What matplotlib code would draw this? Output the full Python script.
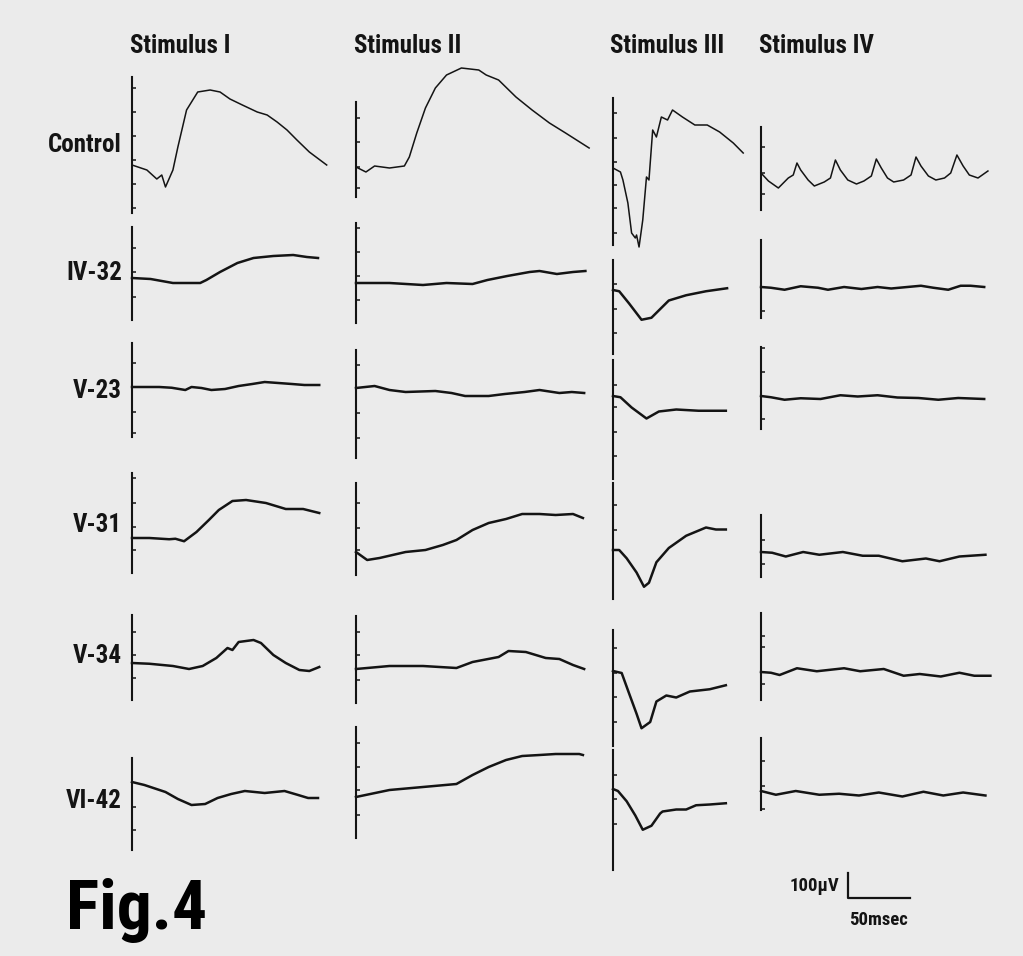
import matplotlib
matplotlib.use('Agg')
import matplotlib.pyplot as plt

# figure size in pixels and the recording scale (scale bar: 50 ms, 100 uV)
W, H = 1023, 956
MS_PER_PX = 50 / 62
UV_PER_PX = 100 / 25

stimuli = ['Stimulus I', 'Stimulus II', 'Stimulus III', 'Stimulus IV']
rows = ['Control', 'IV-32', 'V-23', 'V-31', 'V-34', 'VI-42']

# traces: time after stimulus (ms) and potential from baseline (uV)
# --- Control
ctl_1_t = [0, 12, 20, 24, 27, 33, 37, 44, 53, 63, 71, 79, 89, 101, 109, 117, 125, 133, 143, 157]
ctl_1_v = [0, -20, -56, -40, -88, -20, 72, 220, 292, 300, 292, 264, 240, 212, 200, 172, 140, 100, 52, 0]
ctl_2_t = [0, 8, 15, 27, 39, 43, 49, 56, 64, 73, 85, 99, 105, 115, 129, 142, 156, 169, 188]
ctl_2_v = [0, -20, 4, -4, 4, 40, 136, 236, 316, 368, 396, 388, 368, 348, 280, 228, 176, 136, 76]
ctl_3_t = [0, 6, 8, 12, 15, 18, 19, 21, 24, 27, 29, 32, 35, 39, 44, 48, 56, 66, 76, 86, 97, 105]
ctl_3_v = [0, -16, -48, -140, -260, -280, -268, -316, -208, -36, -48, 152, 124, 204, 192, 232, 204,
           172, 172, 144, 100, 60]
ctl_4_t = [0, 6, 14, 22, 26, 29, 32, 38, 43, 51, 56, 60, 64, 70, 77, 83, 89, 93, 97, 102, 107, 115,
           121, 125, 129, 135, 141, 148, 153, 158, 163, 168, 175, 183]
ctl_4_v = [0, -32, -60, -20, -8, 40, 12, -28, -52, -36, -20, 52, 12, -28, -44, -32, -12, 56, 20, -20,
           -36, -28, -8, 64, 28, -12, -28, -20, 0, 72, 28, -8, -20, 8]
# --- IV-32
iv32_1_t = [0, 15, 33, 55, 60, 71, 85, 98, 114, 130, 141, 150]
iv32_1_v = [0, -4, -20, -20, -8, 24, 60, 80, 88, 92, 84, 80]
iv32_2_t = [0, 27, 54, 73, 94, 106, 122, 140, 148, 162, 175, 185]
iv32_2_v = [0, 0, -8, 0, -4, 12, 28, 44, 48, 36, 44, 48]
iv32_3_t = [0, 5, 13, 23, 31, 45, 59, 75, 92]
iv32_3_v = [0, -5, -54, -119, -111, -42, -21, -5, 7]
iv32_4_t = [0, 8, 19, 32, 46, 54, 67, 81, 94, 105, 118, 129, 139, 151, 161, 169, 180]
iv32_4_v = [0, -3, -11, 3, -3, -11, 0, -8, 0, -6, 0, 5, -3, -11, 5, 5, 0]
# --- V-23
v23_1_t = [0, 22, 32, 43, 48, 56, 64, 75, 86, 97, 107, 118, 129, 139, 151]
v23_1_v = [0, 0, -3, -12, 0, -4, -12, -8, 4, 12, 20, 16, 12, 8, 8]
v23_2_t = [0, 15, 27, 40, 64, 77, 88, 107, 120, 136, 148, 164, 174, 184]
v23_2_v = [0, 8, -8, -16, -12, -20, -32, -32, -24, -16, -8, -20, -16, -20]
v23_3_t = [0, 6, 15, 27, 37, 51, 69, 91]
v23_3_v = [0, -5, -46, -90, -62, -54, -59, -59]
v23_4_t = [0, 8, 19, 32, 48, 64, 78, 94, 110, 127, 143, 159, 180]
v23_4_v = [0, -5, -15, -9, -12, 3, -2, 3, -6, -8, -15, -8, -12]
# --- V-31
v31_1_t = [0, 14, 30, 35, 42, 52, 62, 70, 81, 92, 108, 124, 138, 151]
v31_1_v = [0, 0, -5, -3, -13, 24, 72, 112, 148, 152, 140, 116, 116, 100]
v31_2_t = [0, 9, 19, 40, 56, 70, 81, 94, 107, 121, 134, 148, 161, 175, 183]
v31_2_v = [0, -32, -24, 0, 8, 28, 48, 88, 116, 132, 152, 152, 148, 152, 136]
v31_3_t = [0, 5, 11, 19, 25, 29, 35, 45, 59, 75, 83, 91]
v31_3_v = [0, 0, -33, -90, -147, -131, -49, 8, 57, 90, 82, 82]
v31_4_t = [0, 9, 20, 34, 47, 66, 82, 95, 114, 133, 144, 160, 181]
v31_4_v = [0, -3, -18, 0, -11, 0, -15, -15, -37, -26, -37, -18, -11]
# --- V-34
v34_1_t = [0, 14, 33, 46, 57, 68, 77, 81, 86, 98, 104, 114, 124, 135, 143, 151]
v34_1_v = [0, -3, -12, -24, -12, 20, 60, 52, 84, 92, 80, 32, 0, -28, -32, -16]
v34_2_t = [0, 27, 54, 81, 94, 115, 123, 137, 153, 164, 175, 184]
v34_2_v = [0, 12, 12, 4, 28, 48, 72, 68, 44, 40, 16, 0]
v34_3_t = [0, 7, 13, 19, 23, 30, 35, 43, 51, 62, 78, 91]
v34_3_v = [0, -8, -90, -171, -229, -204, -122, -98, -106, -82, -73, -57]
v34_4_t = [0, 8, 15, 29, 45, 67, 80, 99, 115, 128, 145, 160, 172, 185]
v34_4_v = [0, -3, -12, 15, 3, 15, 3, 12, -15, -8, -18, -3, -15, -15]
# --- VI-42
vi42_1_t = [0, 10, 27, 37, 48, 59, 69, 80, 91, 107, 123, 134, 142, 150]
vi42_1_v = [0, -12, -40, -68, -92, -88, -64, -48, -36, -44, -36, -52, -64, -64]
vi42_2_t = [0, 27, 54, 81, 94, 107, 121, 134, 148, 161, 180, 183]
vi42_2_v = [0, 28, 40, 52, 88, 120, 148, 164, 168, 172, 172, 168]
vi42_3_t = [0, 4, 11, 18, 24, 31, 38, 40, 51, 59, 67, 78, 91]
vi42_3_v = [0, -8, -49, -106, -163, -147, -98, -90, -82, -82, -65, -62, -57]
vi42_4_t = [0, 12, 28, 47, 63, 79, 95, 114, 131, 147, 163, 181]
vi42_4_v = [0, -15, 0, -15, -11, -18, -6, -22, -3, -18, -6, -18]

traces = {
    'Control': [(ctl_1_t, ctl_1_v), (ctl_2_t, ctl_2_v), (ctl_3_t, ctl_3_v), (ctl_4_t, ctl_4_v)],
    'IV-32': [(iv32_1_t, iv32_1_v), (iv32_2_t, iv32_2_v), (iv32_3_t, iv32_3_v), (iv32_4_t, iv32_4_v)],
    'V-23': [(v23_1_t, v23_1_v), (v23_2_t, v23_2_v), (v23_3_t, v23_3_v), (v23_4_t, v23_4_v)],
    'V-31': [(v31_1_t, v31_1_v), (v31_2_t, v31_2_v), (v31_3_t, v31_3_v), (v31_4_t, v31_4_v)],
    'V-34': [(v34_1_t, v34_1_v), (v34_2_t, v34_2_v), (v34_3_t, v34_3_v), (v34_4_t, v34_4_v)],
    'VI-42': [(vi42_1_t, vi42_1_v), (vi42_2_t, vi42_2_v), (vi42_3_t, vi42_3_v), (vi42_4_t, vi42_4_v)],
}

# layout in pixels: axis line x per column, and per panel (baseline y, axis top, axis bottom, tick ys)
col_x = [132, 356, 613, 761]
panels = {
    'Control': [(165, 77, 213, [88, 112, 136, 160, 184, 208]),
                (167, 102, 197, [118, 142, 167, 188]),
                (168, 98, 245, [113, 138, 162, 185, 208, 233]),
                (173, 127, 210, [147, 173, 194])],
    'IV-32': [(278, 227, 320, [248, 272, 297]),
              (283, 223, 323, [228, 252, 276, 300]),
              (290, 260, 354, [284, 309, 333]),
              (287, 240, 318, [311])],
    'V-23': [(387, 343, 437, [363, 387, 412, 433]),
             (388, 350, 458, [365, 413, 438]),
             (396, 360, 479, [385, 407, 432, 456]),
             (396, 347, 429, [348, 372, 419])],
    'V-31': [(538, 473, 573, [478, 503, 527, 550]),
             (552, 483, 575, [503, 528, 550]),
             (550, 483, 599, [505, 530]),
             (552, 515, 577, [540, 564])],
    'V-34': [(663, 615, 700, [632, 655, 678]),
             (669, 616, 703, [632, 655, 680]),
             (671, 630, 746, [648, 673, 697, 722]),
             (672, 613, 700, [636, 647, 684])],
    'VI-42': [(782, 758, 850, [807, 830]),
              (797, 727, 838, [743, 767, 790, 815]),
              (789, 750, 870, [775, 799, 824]),
              (791, 738, 810, [761, 786, 809])],
}
label_base = [152, 280, 398, 532, 663, 808]
header_x = [130, 354, 610, 759]

FONT = ['Roboto Condensed', 'Liberation Sans', 'DejaVu Sans']
BG = '#ebebeb'
INK = '#141414'


def px_rect(left, top, width, height):
    return [left / W, 1 - (top + height) / H, width / W, height / H]


fig = plt.figure(figsize=(W / 100, H / 100), dpi=100, facecolor=BG)

for r, row in enumerate(rows):
    for c in range(4):
        y0, top, bottom, ticks = panels[row][c]
        ax = fig.add_axes(px_rect(col_x[c], top, 250, bottom - top))
        ax.set_xlim(0, 250 * MS_PER_PX)
        ax.set_ylim((y0 - bottom) * UV_PER_PX, (y0 - top) * UV_PER_PX)
        ax.patch.set_visible(False)
        for s in ['top', 'right', 'bottom']:
            ax.spines[s].set_visible(False)
        ax.spines['left'].set_linewidth(1.5)
        ax.spines['left'].set_color(INK)
        ax.set_xticks([])
        ax.set_yticks([(y0 - p) * UV_PER_PX for p in ticks])
        ax.tick_params(axis='y', direction='in', length=3, width=1.1, color=INK, labelleft=False)
        t, v = traces[row][c]
        lw = 1.1 if row == 'Control' else 1.8
        ax.plot(t, v, color=INK, lw=lw, clip_on=False, solid_joinstyle='round')

    fig.text(122 / W, 1 - label_base[r] / H, row, ha='right', va='baseline',
             fontsize=18, fontweight='bold', family=FONT, color=INK)

for c, name in enumerate(stimuli):
    fig.text(header_x[c] / W, 1 - 53 / H, name, ha='left', va='baseline',
             fontsize=18, fontweight='bold', family=FONT, color=INK)

# scale bar: 100 uV by 50 ms
sb = fig.add_axes(px_rect(848, 873, 70, 25))
sb.set_xlim(0, 70 * MS_PER_PX)
sb.set_ylim(0, 25 * UV_PER_PX)
sb.axis('off')
sb.plot([0, 0, 50], [100, 0, 0], color=INK, lw=1.6, clip_on=False)
fig.text(839 / W, 1 - 891 / H, '100µV', ha='right', va='baseline',
         fontsize=13.5, fontweight='bold', family=FONT, color=INK)
fig.text(849 / W, 1 - 925 / H, '50msec', ha='left', va='baseline',
         fontsize=13.5, fontweight='bold', family=FONT, color=INK)

fig.text(66 / W, 1 - 929 / H, 'Fig.4', ha='left', va='baseline',
         fontsize=50, fontweight='bold', family=FONT, color='black')

fig.savefig('out.png', dpi=100, facecolor=BG)
